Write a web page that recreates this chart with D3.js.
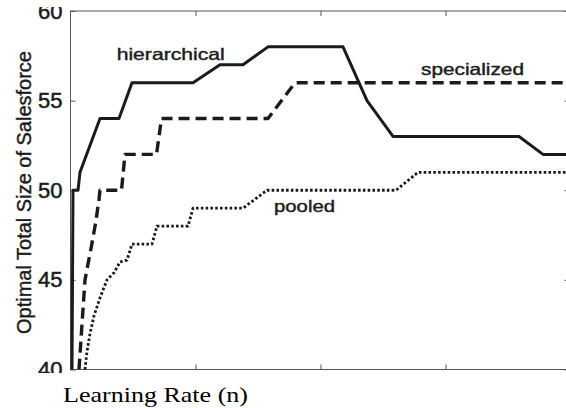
<!DOCTYPE html>
<html>
<head>
<meta charset="utf-8">
<script src="https://cdn.jsdelivr.net/npm/d3@7"></script>
<style>
  html, body { margin: 0; padding: 0; background: #fff; }
  svg { display: block; }
</style>
</head>
<body>
<svg id="chart" width="566" height="408"></svg>
<script>
// Optimal total salesforce size against learning rate, three organisation forms
const hierRate = [0.003, 0.005, 0.015, 0.019, 0.059, 0.097, 0.123, 0.245, 0.299, 0.345, 0.395, 0.545, 0.593, 0.645, 0.897, 0.945, 1.0];
const hierSize = [40, 50, 50, 51, 54, 54, 56, 56, 57, 57, 58, 58, 55, 53, 53, 52, 52];

const specRate = [0.017, 0.021, 0.029, 0.042, 0.051, 0.057, 0.059, 0.102, 0.109, 0.172, 0.182, 0.395, 0.449, 1.0];
const specSize = [40, 41.7, 45, 46.9, 48.3, 49.5, 50, 50, 52, 52, 54, 54, 56, 56];

const poolRate = [0.029, 0.033, 0.039, 0.047, 0.059, 0.073, 0.087, 0.099, 0.113, 0.123, 0.163, 0.173, 0.235, 0.245, 0.345, 0.393, 0.651, 0.695, 1.0];
const poolSize = [40, 41, 42, 43, 44, 45, 45.4, 46, 46.1, 47, 47, 48, 48, 49, 49, 50, 50, 51, 51];

const yTicks = [40, 45, 50, 55, 60];
const xTicks = [0.25, 0.5, 0.75];

const seriesNames = ["hierarchical", "specialized", "pooled"];

const svg = d3.select("#chart");

const x = d3.scaleLinear().domain([0, 1]).range([70.5, 570.5]);
const y = d3.scaleLinear().domain([40, 60]).range([369.5, 11]);

const ink = "#1b1b1b";
const frame = "#555";
const sans = "'Liberation Sans', Arial, sans-serif";

// plot frame
svg.append("rect")
  .attr("x", x(0)).attr("y", y(60))
  .attr("width", x(1) - x(0)).attr("height", y(40) - y(60))
  .attr("fill", "none").attr("stroke", frame).attr("stroke-width", 1);

// inward ticks on all four sides
const axisL = d3.axisLeft(y).tickValues(yTicks).tickSizeInner(-5).tickSizeOuter(0).tickPadding(8);
const gL = svg.append("g").attr("transform", `translate(${x(0)},0)`).call(axisL);
gL.select(".domain").remove();
gL.selectAll("line").attr("stroke", frame);
gL.selectAll("text")
  .attr("fill", ink)
  .attr("stroke", ink)
  .attr("stroke-width", 0.5)
  .style("font-family", sans)
  .style("font-size", "22px");

const axisR = d3.axisRight(y).tickValues(yTicks).tickSizeInner(-6).tickSizeOuter(0).tickFormat("");
const gR = svg.append("g").attr("transform", `translate(${x(1)},0)`).call(axisR);
gR.select(".domain").remove();
gR.selectAll("line").attr("stroke", frame);

const axisB = d3.axisBottom(x).tickValues(xTicks).tickSizeInner(-5).tickSizeOuter(0).tickFormat("");
const gB = svg.append("g").attr("transform", `translate(0,${y(40)})`).call(axisB);
gB.select(".domain").remove();
gB.selectAll("line").attr("stroke", frame);

const axisT = d3.axisTop(x).tickValues(xTicks).tickSizeInner(-5).tickSizeOuter(0).tickFormat("");
const gT = svg.append("g").attr("transform", `translate(0,${y(60)})`).call(axisT);
gT.select(".domain").remove();
gT.selectAll("line").attr("stroke", frame);

// series lines
const line = d3.line().x(d => x(d[0])).y(d => y(d[1]));
const zip = (a, b) => a.map((v, i) => [v, b[i]]);

const series = [
  { pts: zip(hierRate, hierSize), width: 3, dash: null, cap: "butt" },
  { pts: zip(specRate, specSize), width: 3.4, dash: "11,6", cap: "butt" },
  { pts: zip(poolRate, poolSize), width: 2.8, dash: "2.6,2.2", cap: "butt" }
];

svg.append("g").selectAll("path").data(series).join("path")
  .attr("d", d => line(d.pts))
  .attr("fill", "none")
  .attr("stroke", ink)
  .attr("stroke-width", d => d.width)
  .attr("stroke-dasharray", d => d.dash)
  .attr("stroke-linecap", d => d.cap)
  .attr("stroke-linejoin", "round");

// series labels
const labelPos = [
  { x: 116.7, y: 60, w: 108 },
  { x: 421, y: 74.5, w: 103 },
  { x: 274, y: 211.7, w: 61 }
];
svg.append("g").selectAll("text").data(seriesNames).join("text")
  .attr("x", (d, i) => labelPos[i].x)
  .attr("y", (d, i) => labelPos[i].y)
  .attr("textLength", (d, i) => labelPos[i].w)
  .attr("lengthAdjust", "spacingAndGlyphs")
  .attr("fill", ink)
  .attr("stroke", ink)
  .attr("stroke-width", 0.4)
  .style("font-family", sans)
  .style("font-size", "16.5px")
  .text(d => d);

// y axis title
svg.append("text")
  .attr("transform", "translate(31,192.5) rotate(-90)")
  .attr("text-anchor", "middle")
  .attr("textLength", 283)
  .attr("lengthAdjust", "spacingAndGlyphs")
  .attr("fill", ink)
  .attr("stroke", ink)
  .attr("stroke-width", 0.4)
  .style("font-family", sans)
  .style("font-size", "19.5px")
  .text("Optimal Total Size of Salesforce");

// the figure is trimmed just under the plot, with a caption strip below
svg.append("rect").attr("x", 0).attr("y", 373).attr("width", 566).attr("height", 35).attr("fill", "#fff");
svg.append("rect").attr("x", 0).attr("y", 0).attr("width", 566).attr("height", 7).attr("fill", "#fff");

svg.append("text")
  .attr("x", 63).attr("y", 402)
  .attr("textLength", 185)
  .attr("lengthAdjust", "spacingAndGlyphs")
  .attr("fill", "#000")
  .style("font-family", "'Liberation Serif', 'Times New Roman', serif")
  .style("font-size", "22px")
  .text("Learning Rate (n)");
</script>
</body>
</html>
